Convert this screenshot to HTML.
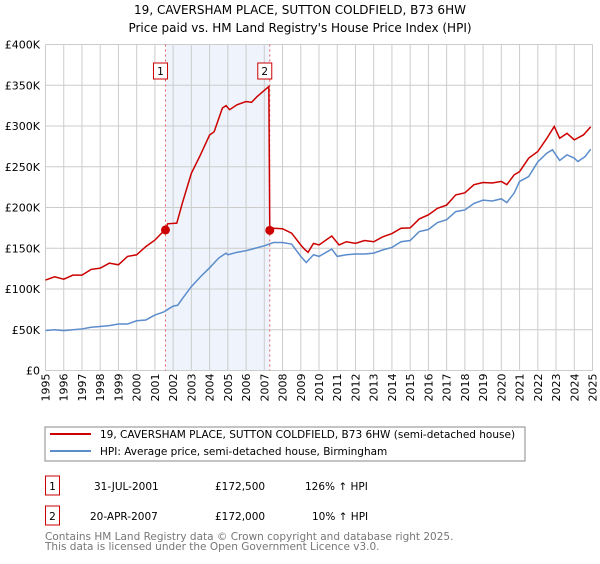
<!DOCTYPE html>
<html><head><meta charset="utf-8"><style>
body{margin:0;background:#fff;width:600px;height:560px;overflow:hidden;font-family:"DejaVu Sans","Liberation Sans",sans-serif}
svg text{font-family:"DejaVu Sans","Liberation Sans",sans-serif}
</style></head><body>
<svg id="c" width="600" height="560">
<text x="300" y="14" text-anchor="middle" font-size="12">19, CAVERSHAM PLACE, SUTTON COLDFIELD, B73 6HW</text>
<text x="300" y="32" text-anchor="middle" font-size="12">Price paid vs. HM Land Registry's House Price Index (HPI)</text>
<g id="plot"></g>
<rect x="45" y="427" width="480" height="34" fill="#fff" stroke="#888"/>
<line x1="50" y1="434" x2="91" y2="434" stroke="#cc0000" stroke-width="2"/>
<text x="100" y="438" font-size="10.5">19, CAVERSHAM PLACE, SUTTON COLDFIELD, B73 6HW (semi-detached house)</text>
<line x1="50" y1="451" x2="91" y2="451" stroke="#5b8ccc" stroke-width="2"/>
<text x="100" y="455" font-size="10.5">HPI: Average price, semi-detached house, Birmingham</text>
<g>
<rect x="45.5" y="476" width="14" height="19" fill="#fff" stroke="#cc0000"/>
<text x="52.5" y="490" text-anchor="middle" font-size="10.5">1</text>
<text x="94" y="490" font-size="10.5">31-JUL-2001</text>
<text x="215" y="490" font-size="10.5">£172,500</text>
<text x="305" y="490" font-size="10.5">126% ↑ HPI</text>
</g>
<g>
<rect x="45.5" y="506" width="14" height="19" fill="#fff" stroke="#cc0000"/>
<text x="52.5" y="520" text-anchor="middle" font-size="10.5">2</text>
<text x="90" y="520" font-size="10.5">20-APR-2007</text>
<text x="215" y="520" font-size="10.5">£172,000</text>
<text x="312" y="520" font-size="10.5">10% ↑ HPI</text>
</g>
<text x="45" y="540" font-size="10.5" fill="#777">Contains HM Land Registry data © Crown copyright and database right 2025.</text>
<text x="45" y="550" font-size="10.5" fill="#777">This data is licensed under the Open Government Licence v3.0.</text>
</svg>
<script>
const yearTicks=[1995,1996,1997,1998,1999,2000,2001,2002,2003,2004,2005,2006,2007,2008,2009,2010,2011,2012,2013,2014,2015,2016,2017,2018,2019,2020,2021,2022,2023,2024,2025];
const valueTicks=[0,50,100,150,200,250,300,350,400];
const valueTickLabels=["£0","£50K","£100K","£150K","£200K","£250K","£300K","£350K","£400K"];
const hpiYears=[1995,1995.5,1996,1996.5,1997,1997.5,1998,1998.5,1999,1999.5,2000,2000.5,2001,2001.5,2002,2002.25,2002.5,2003,2003.5,2004,2004.5,2004.9,2005,2005.5,2006,2006.5,2007,2007.5,2008,2008.5,2009,2009.3,2009.7,2010,2010.7,2011,2011.5,2012,2012.5,2013,2013.5,2014,2014.5,2015,2015.5,2016,2016.5,2017,2017.5,2018,2018.5,2019,2019.5,2020,2020.3,2020.7,2021,2021.5,2022,2022.5,2022.8,2023.2,2023.6,2024,2024.2,2024.6,2024.9];
const hpiValues=[49,50,49,50,51,53,54,55,57,57,61,62,68,72,79,80,88,103,115,126,138,144,142,145,147,150,153,157,157,155,140,132.5,142,140,149,140,142,143,143,144,148,151,158,159.5,170.5,173,181.5,185,195,197,205,209,208,210.6,206,217.6,232,238,256,266.7,270.8,257.7,264.6,260.5,256.4,262.6,271.6];
const priceYears=[1995,1995.5,1996,1996.5,1997,1997.5,1998,1998.5,1999,1999.5,2000,2000.5,2001,2001.58,2001.7,2002.2,2002.5,2003,2003.5,2004,2004.25,2004.7,2004.9,2005.1,2005.5,2006,2006.3,2006.6,2007.25,2007.3,2007.5,2008,2008.5,2009,2009.2,2009.4,2009.7,2010,2010.7,2011.1,2011.5,2012,2012.5,2013,2013.5,2014,2014.5,2015,2015.5,2016,2016.5,2017,2017.5,2018,2018.5,2019,2019.5,2020,2020.3,2020.7,2021,2021.5,2022,2022.5,2022.9,2023.2,2023.6,2024,2024.5,2024.9];
const priceValues=[111,115,112,117,117,124,125.6,131.7,129.7,140,142,152,160,173.4,180,180.8,205,242,264.6,289,293,322,325,320,326,330,329,336,348.5,172,174.6,174,168.5,154,149,145,156,154,165,154,158,156,159.5,158,164,168,174.6,175,186,191,199,203,215.5,218,228,230.7,230,232,228,240,244,260.5,268.7,285,299.4,285,291,283,289,299];
const saleYears=[2001.58,2007.3];
const saleValues=[172.5,172];
const saleLabels=["1","2"];

const NS="http://www.w3.org/2000/svg";
const X0=45.5,X1=592.5,Y0=370.5,Y1=44.5;
const xs=y=>X0+(y-1995)/(2025-1995)*(X1-X0);
const ys=v=>Y0-v/400*(Y0-Y1);
const g=document.getElementById('plot');
function mk(t,a,p){const e=document.createElementNS(NS,t);for(const k in a)e.setAttribute(k,a[k]);(p||g).appendChild(e);return e;}
let e;
e=mk('rect',{x:xs(saleYears[0]),y:Y1,width:xs(saleYears[1])-xs(saleYears[0]),height:Y0-Y1,fill:'#eef3fc'});


yearTicks.forEach(yr=>{
 e=mk('line',{x1:xs(yr),x2:xs(yr),y1:Y1,y2:Y0,stroke:'#ccc'});
 
 
 const wg=mk('g',{transform:'translate('+(xs(yr)+4)+','+(Y0+3)+') rotate(-90)'});
 e=mk('text',{x:0,y:0,'font-size':11,'text-anchor':'end'},wg);
 e.textContent=yr;
 
 
});
valueTicks.forEach((v,i)=>{
 e=mk('line',{x1:X0,x2:X1,y1:ys(v),y2:ys(v),stroke:'#ccc'});
 
 
 e=mk('text',{x:40,y:ys(v)+4,'font-size':11,'text-anchor':'end'});
 e.textContent=valueTickLabels[i];
 
 
});
saleYears.forEach((yr,i)=>{
 e=mk('line',{x1:xs(yr),x2:xs(yr),y1:Y1,y2:Y0,stroke:'#e06060','stroke-dasharray':'2,3'});
 
 
});
e=mk('polyline',{points:hpiYears.map((y,i)=>xs(y)+','+ys(hpiValues[i])).join(' '),fill:'none',stroke:'#5b8ccc','stroke-width':1.5});


e=mk('polyline',{points:priceYears.map((y,i)=>xs(y)+','+ys(priceValues[i])).join(' '),fill:'none',stroke:'#cc0000','stroke-width':1.5});


saleYears.forEach((yr,i)=>{
 e=mk('circle',{cx:xs(yr),cy:ys(saleValues[i]),r:4.5,fill:'#cc0000'});
 
 
 e=mk('rect',{x:xs(yr)-12,y:63,width:14,height:16,fill:'#fff',stroke:'#cc0000'});
 
 
 e=mk('text',{x:xs(yr)-5,y:75,'font-size':10.5,'text-anchor':'middle'});
 e.textContent=saleLabels[i];
 
 
});
</script>
</body></html>
